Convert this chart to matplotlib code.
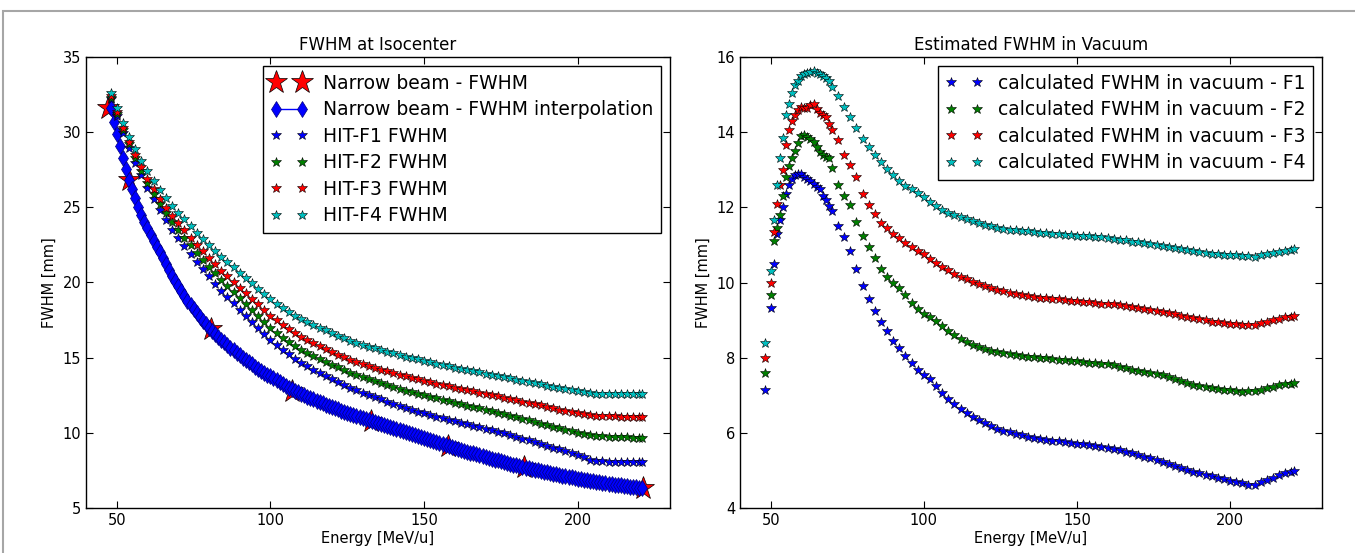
import matplotlib
matplotlib.use("Agg")
import matplotlib.pyplot as plt
from matplotlib.patches import Rectangle

plt.rcParams["font.family"] = "DejaVu Sans"
plt.rcParams["xtick.labelsize"] = 10.5
plt.rcParams["ytick.labelsize"] = 10.5
plt.rcParams["axes.labelsize"] = 10.5
plt.rcParams["axes.titlesize"] = 12
plt.rcParams["xtick.direction"] = "in"
plt.rcParams["ytick.direction"] = "in"
plt.rcParams["xtick.top"] = True
plt.rcParams["ytick.right"] = True
plt.rcParams["xtick.major.size"] = 5
plt.rcParams["ytick.major.size"] = 5

# ---------------- left panel: FWHM at isocenter ----------------
narrow_E = [47.3, 53.9, 80.7, 107.0, 132.6, 157.8, 182.5, 221.3]
narrow_fwhm = [31.6, 26.8, 16.9, 12.8, 10.8, 9.13, 7.7, 6.3]

# interpolation of the narrow beam, read every 1 MeV/u from 48 to 221
E_interp = list(range(48, 222))
narrow_interp = [31.6, 30.7, 29.9, 29.1, 28.3, 27.55, 26.8, 26.2, 25.6, 25.05,
                 24.5, 24.05, 23.6, 23.17, 22.75, 22.37, 22.0, 21.6, 21.2, 20.82,
                 20.45, 20.1, 19.75, 19.42, 19.1, 18.8, 18.5, 18.22, 17.95, 17.7,
                 17.45, 17.22, 17.0, 16.8, 16.6, 16.4, 16.2, 16.02, 15.85, 15.67,
                 15.5, 15.32, 15.15, 15.0, 14.85, 14.7, 14.55, 14.4, 14.25, 14.12,
                 14.0, 13.87, 13.75, 13.62, 13.5, 13.37, 13.25, 13.12, 13.0, 12.9,
                 12.8, 12.7, 12.6, 12.5, 12.4, 12.31, 12.22, 12.13, 12.05, 11.96,
                 11.88, 11.8, 11.72, 11.64, 11.56, 11.48, 11.4, 11.32, 11.25, 11.17,
                 11.1, 11.03, 10.96, 10.9, 10.83, 10.77, 10.71, 10.64, 10.58, 10.51,
                 10.44, 10.37, 10.31, 10.24, 10.18, 10.11, 10.05, 9.98, 9.92, 9.85,
                 9.79, 9.72, 9.66, 9.59, 9.52, 9.45, 9.39, 9.32, 9.26, 9.19,
                 9.12, 9.05, 8.99, 8.93, 8.87, 8.81, 8.75, 8.69, 8.63, 8.57,
                 8.51, 8.45, 8.4, 8.34, 8.28, 8.22, 8.17, 8.11, 8.06, 8.0,
                 7.95, 7.89, 7.84, 7.78, 7.73, 7.68, 7.64, 7.59, 7.55, 7.5,
                 7.46, 7.41, 7.37, 7.32, 7.28, 7.24, 7.2, 7.16, 7.12, 7.08,
                 7.04, 7.0, 6.96, 6.92, 6.88, 6.84, 6.81, 6.77, 6.74, 6.7,
                 6.67, 6.64, 6.61, 6.58, 6.55, 6.52, 6.5, 6.47, 6.45, 6.42,
                 6.4, 6.37, 6.35, 6.33]

E_iso = [48, 50, 52, 54, 56, 58, 60, 62, 64, 66,
         68, 70, 72, 74, 76, 78, 80, 82, 84, 86,
         88, 90, 92, 94, 96, 98, 100, 102, 104, 106,
         108, 110, 112, 114, 116, 118, 120, 122, 124, 126,
         128, 130, 132, 134, 136, 138, 140, 142, 144, 146,
         148, 150, 152, 154, 156, 158, 160, 162, 164, 166,
         168, 170, 172, 174, 176, 178, 180, 182, 184, 186,
         188, 190, 192, 194, 196, 198, 200, 202, 204, 206,
         208, 210, 212, 214, 216, 218, 220, 221]

hit_f1 = [32.2, 31.08, 29.97, 28.95, 27.98, 27.12, 26.3, 25.53, 24.81, 24.14,
          23.52, 22.95, 22.42, 21.89, 21.36, 20.88, 20.4, 19.93, 19.46, 19.04,
          18.62, 18.2, 17.8, 17.4, 17.0, 16.6, 16.2, 15.86, 15.52, 15.23,
          14.94, 14.65, 14.43, 14.21, 14.0, 13.8, 13.6, 13.4, 13.2, 13.0,
          12.83, 12.67, 12.52, 12.37, 12.22, 12.08, 11.94, 11.8, 11.66, 11.53,
          11.41, 11.29, 11.18, 11.07, 10.97, 10.86, 10.76, 10.66, 10.56, 10.47,
          10.37, 10.28, 10.18, 10.08, 9.98, 9.86, 9.74, 9.62, 9.5, 9.38,
          9.26, 9.14, 9.02, 8.9, 8.78, 8.66, 8.55, 8.39, 8.22, 8.13,
          8.1, 8.08, 8.08, 8.07, 8.08, 8.07, 8.07, 8.07]

hit_f2 = [32.3, 31.23, 30.17, 29.2, 28.27, 27.43, 26.65, 25.92, 25.24, 24.61,
          24.03, 23.5, 22.99, 22.48, 21.97, 21.51, 21.05, 20.6, 20.15, 19.75,
          19.35, 18.95, 18.56, 18.17, 17.78, 17.39, 17.0, 16.67, 16.34, 16.06,
          15.78, 15.5, 15.3, 15.1, 14.91, 14.72, 14.54, 14.35, 14.17, 13.98,
          13.83, 13.69, 13.56, 13.42, 13.29, 13.17, 13.04, 12.92, 12.81, 12.7,
          12.59, 12.49, 12.39, 12.29, 12.19, 12.09, 11.99, 11.9, 11.81, 11.72,
          11.62, 11.52, 11.43, 11.34, 11.24, 11.14, 11.04, 10.94, 10.84, 10.73,
          10.62, 10.52, 10.41, 10.31, 10.2, 10.1, 10.0, 9.92, 9.84, 9.79,
          9.76, 9.73, 9.71, 9.69, 9.69, 9.68, 9.67, 9.67]

hit_f3 = [32.4, 31.35, 30.3, 29.35, 28.45, 27.65, 26.9, 26.21, 25.57, 24.98,
          24.44, 23.95, 23.47, 22.99, 22.51, 22.08, 21.65, 21.22, 20.79, 20.41,
          20.03, 19.65, 19.28, 18.91, 18.54, 18.17, 17.8, 17.48, 17.16, 16.89,
          16.62, 16.35, 16.15, 15.95, 15.76, 15.57, 15.39, 15.21, 15.03, 14.85,
          14.71, 14.57, 14.45, 14.32, 14.2, 14.08, 13.97, 13.86, 13.75, 13.65,
          13.55, 13.46, 13.37, 13.27, 13.18, 13.09, 13.0, 12.91, 12.83, 12.75,
          12.67, 12.59, 12.5, 12.42, 12.34, 12.25, 12.16, 12.08, 11.99, 11.9,
          11.82, 11.73, 11.64, 11.55, 11.47, 11.38, 11.3, 11.23, 11.17, 11.13,
          11.11, 11.09, 11.09, 11.08, 11.08, 11.08, 11.07, 11.07]

hit_f4 = [32.6, 31.6, 30.6, 29.7, 28.85, 28.1, 27.4, 26.75, 26.15, 25.6,
          25.1, 24.65, 24.2, 23.75, 23.3, 22.9, 22.5, 22.1, 21.7, 21.35,
          21.0, 20.65, 20.3, 19.95, 19.6, 19.25, 18.9, 18.6, 18.3, 18.05,
          17.8, 17.55, 17.36, 17.17, 16.99, 16.81, 16.64, 16.47, 16.3, 16.13,
          15.99, 15.86, 15.74, 15.62, 15.5, 15.39, 15.28, 15.17, 15.07, 14.97,
          14.88, 14.79, 14.7, 14.61, 14.52, 14.43, 14.34, 14.26, 14.18, 14.1,
          14.02, 13.94, 13.86, 13.78, 13.7, 13.62, 13.54, 13.46, 13.38, 13.3,
          13.22, 13.14, 13.06, 12.98, 12.9, 12.82, 12.75, 12.69, 12.64, 12.61,
          12.6, 12.59, 12.59, 12.59, 12.6, 12.6, 12.6, 12.6]

# ---------------- right panel: estimated FWHM in vacuum ----------------
E_vac = [48, 50, 51, 52, 53, 54, 55, 56, 57, 58,
         59, 60, 61, 62, 63, 64, 65, 66, 67, 68,
         69, 70, 72, 74, 76, 78, 80, 82, 84, 86,
         88, 90, 92, 94, 96, 98, 100, 102, 104, 106,
         108, 110, 112, 114, 116, 118, 120, 122, 124, 126,
         128, 130, 132, 134, 136, 138, 140, 142, 144, 146,
         148, 150, 152, 154, 156, 158, 160, 162, 164, 166,
         168, 170, 172, 174, 176, 178, 180, 182, 184, 186,
         188, 190, 192, 194, 196, 198, 200, 202, 204, 206,
         208, 210, 212, 214, 216, 218, 220, 221]

vac_f1 = [7.15, 9.32, 10.5, 11.3, 11.65, 12.0, 12.35, 12.6, 12.75, 12.85,
          12.9, 12.88, 12.8, 12.75, 12.7, 12.62, 12.55, 12.48, 12.3, 12.2,
          12.03, 11.9, 11.5, 11.2, 10.85, 10.35, 9.92, 9.55, 9.25, 8.95,
          8.7, 8.45, 8.25, 8.05, 7.85, 7.68, 7.55, 7.42, 7.25, 7.05,
          6.9, 6.76, 6.64, 6.53, 6.43, 6.33, 6.25, 6.17, 6.11, 6.06,
          6.01, 5.97, 5.93, 5.9, 5.87, 5.84, 5.81, 5.79, 5.77, 5.75,
          5.73, 5.71, 5.69, 5.67, 5.65, 5.62, 5.59, 5.56, 5.53, 5.5,
          5.46, 5.42, 5.37, 5.32, 5.27, 5.22, 5.17, 5.12, 5.07, 5.02,
          4.97, 4.92, 4.88, 4.84, 4.8, 4.76, 4.72, 4.69, 4.66, 4.61,
          4.62, 4.69, 4.75, 4.81, 4.87, 4.92, 4.96, 4.98]

vac_f2 = [7.6, 9.67, 11.1, 11.45, 11.8, 12.3, 12.8, 13.1, 13.3, 13.5,
          13.7, 13.9, 13.92, 13.88, 13.82, 13.75, 13.6, 13.48, 13.4, 13.35,
          13.3, 13.05, 12.6, 12.3, 12.05, 11.6, 11.25, 10.95, 10.65, 10.37,
          10.15, 10.0, 9.85, 9.68, 9.45, 9.3, 9.17, 9.07, 8.98, 8.85,
          8.72, 8.6, 8.5, 8.41, 8.34, 8.28, 8.23, 8.19, 8.16, 8.13,
          8.1, 8.07, 8.05, 8.03, 8.01, 7.99, 7.98, 7.96, 7.95, 7.93,
          7.92, 7.9, 7.88, 7.86, 7.85, 7.83, 7.82, 7.81, 7.76, 7.72,
          7.68, 7.64, 7.61, 7.58, 7.56, 7.53, 7.48, 7.43, 7.38, 7.32,
          7.27, 7.24, 7.21, 7.18, 7.16, 7.14, 7.13, 7.11, 7.09, 7.1,
          7.12, 7.14, 7.18, 7.22, 7.26, 7.29, 7.31, 7.32]

vac_f3 = [8.0, 10.0, 11.35, 12.1, 12.6, 13.0, 13.65, 14.05, 14.3, 14.45,
          14.6, 14.68, 14.65, 14.65, 14.72, 14.75, 14.62, 14.52, 14.47, 14.4,
          14.22, 14.05, 13.8, 13.4, 13.12, 12.8, 12.35, 12.05, 11.82, 11.58,
          11.45, 11.3, 11.18, 11.05, 10.95, 10.85, 10.75, 10.62, 10.52, 10.42,
          10.32, 10.23, 10.15, 10.08, 10.02, 9.96, 9.91, 9.86, 9.81, 9.77,
          9.73, 9.7, 9.67, 9.64, 9.62, 9.6, 9.58, 9.56, 9.55, 9.53,
          9.52, 9.5, 9.48, 9.47, 9.45, 9.44, 9.43, 9.42, 9.4, 9.37,
          9.34, 9.31, 9.29, 9.26, 9.24, 9.22, 9.19, 9.16, 9.12, 9.09,
          9.05, 9.02, 8.99, 8.96, 8.94, 8.92, 8.9, 8.89, 8.88, 8.87,
          8.88, 8.92, 8.96, 9.0, 9.04, 9.07, 9.09, 9.1]

vac_f4 = [8.4, 10.3, 11.65, 12.6, 13.3, 13.85, 14.45, 14.75, 15.05, 15.25,
          15.35, 15.5, 15.55, 15.57, 15.6, 15.63, 15.58, 15.55, 15.5, 15.45,
          15.35, 15.2, 14.95, 14.68, 14.4, 14.1, 13.82, 13.6, 13.4, 13.2,
          13.02, 12.85, 12.69, 12.57, 12.48, 12.38, 12.28, 12.15, 12.03, 11.94,
          11.85, 11.79, 11.73, 11.68, 11.63, 11.58, 11.54, 11.5, 11.46, 11.43,
          11.41, 11.39, 11.37, 11.36, 11.35, 11.33, 11.32, 11.3, 11.29, 11.27,
          11.26, 11.25, 11.24, 11.23, 11.22, 11.2, 11.18, 11.16, 11.14, 11.12,
          11.09, 11.07, 11.04, 11.02, 11.0, 10.98, 10.95, 10.92, 10.89, 10.86,
          10.83, 10.8, 10.78, 10.76, 10.75, 10.74, 10.73, 10.72, 10.71, 10.7,
          10.69, 10.73, 10.76, 10.79, 10.82, 10.85, 10.87, 10.88]

colors = ["b", "g", "r", "c"]

W, H = 1355, 553
fig = plt.figure(figsize=(W / 100, H / 100), dpi=100)
ax1 = fig.add_axes([86 / W, 1 - 508 / H, (670 - 86) / W, (508 - 57) / H])
ax2 = fig.add_axes([740 / W, 1 - 508 / H, (1322 - 740) / W, (508 - 57) / H])

# left
ax1.plot(narrow_E, narrow_fwhm, "r*", ms=17, mec="k", mew=0.5,
         label="Narrow beam - FWHM")
ax1.plot(E_interp, narrow_interp, "bd-", ms=8, mec="#00007a", mew=0.5, lw=1,
         label="Narrow beam - FWHM interpolation")
for i, ys in enumerate([hit_f1, hit_f2, hit_f3, hit_f4]):
    ax1.plot(E_iso, ys, "*", color=colors[i], ms=7, mec="k", mew=0.4,
             ls="none", label="HIT-F%d FWHM" % (i + 1))
ax1.set_xlim(40, 230)
ax1.set_ylim(5, 35)
ax1.set_xticks([50, 100, 150, 200])
ax1.set_title("FWHM at Isocenter", pad=5)
ax1.set_xlabel("Energy [MeV/u]", labelpad=2)
ax1.set_ylabel("FWHM [mm]")
leg1 = ax1.legend(loc="upper right", fontsize=13.5, numpoints=2, fancybox=False,
                  framealpha=1, edgecolor="k", handlelength=2.0,
                  labelspacing=0.4, borderaxespad=0.5)
leg1.get_frame().set_linewidth(1)

# right
for i, ys in enumerate([vac_f1, vac_f2, vac_f3, vac_f4]):
    ax2.plot(E_vac, ys, "*", color=colors[i], ms=7, mec="k", mew=0.4,
             ls="none", label="calculated FWHM in vacuum - F%d" % (i + 1))
ax2.set_xlim(40, 230)
ax2.set_ylim(4, 16)
ax2.set_xticks([50, 100, 150, 200])
ax2.set_yticks([4, 6, 8, 10, 12, 14, 16])
ax2.set_title("Estimated FWHM in Vacuum", pad=5)
ax2.set_xlabel("Energy [MeV/u]", labelpad=2)
ax2.set_ylabel("FWHM [mm]")
leg2 = ax2.legend(loc="upper right", fontsize=13.5, numpoints=2, fancybox=False,
                  framealpha=1, edgecolor="k", handlelength=2.0,
                  labelspacing=0.4, borderaxespad=0.5)
leg2.get_frame().set_linewidth(1)

for ax in (ax1, ax2):
    for s in ax.spines.values():
        s.set_linewidth(1)

# thin grey frame of the original screenshot
fig.patches.append(Rectangle((3 / W, -0.1), 1.0, 1.1 - 11 / H, transform=fig.transFigure,
                             fill=False, edgecolor="0.65", lw=1.5))

fig.savefig("out.png", dpi=100)
